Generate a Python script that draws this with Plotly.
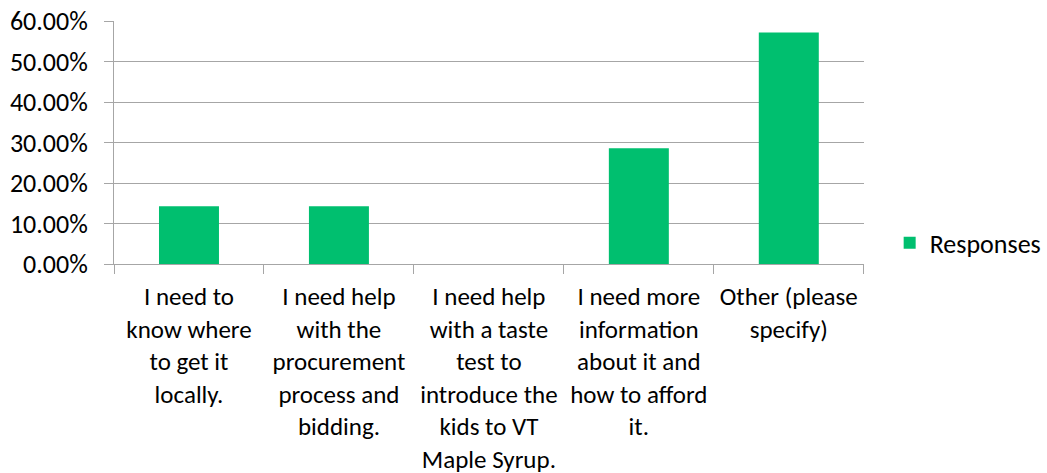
import plotly.graph_objects as go

categories = [
    "I need to<br>know where<br>to get it<br>locally.",
    "I need help<br>with the<br>procurement<br>process and<br>bidding.",
    "I need help<br>with a taste<br>test to<br>introduce the<br>kids to VT<br>Maple Syrup.",
    "I need more<br>information<br>about it and<br>how to afford<br>it.",
    "Other (please<br>specify)",
]
responses = [0.1429, 0.1429, 0.0, 0.2857, 0.5714]
series_name = "Responses"
y_ticks = [0, 0.1, 0.2, 0.3, 0.4, 0.5, 0.6]

FONT = "Carlito, Calibri, Lato, sans-serif"
GRID = "#A6A6A6"

W, H = 1047, 473
ML = 114
PLOT_RIGHT = 867
domain_end = (PLOT_RIGHT - ML) / (W - ML)

fig = go.Figure()
fig.add_trace(go.Bar(
    x=categories, y=responses, name=series_name,
    marker=dict(color="#00BF6F", line=dict(width=0)),
    showlegend=True,
))
fig.update_layout(
    width=W, height=H,
    margin=dict(l=ML, r=0, t=21, b=209),
    plot_bgcolor="white", paper_bgcolor="white",
    font=dict(family=FONT, size=25, color="#000000"),
    bargap=0.6,
    showlegend=True,
    legend=dict(x=(893 - ML) / (W - ML), xanchor="left", y=0.087, yanchor="middle",
                font=dict(family=FONT, size=26, color="#000000"),
                bgcolor="rgba(0,0,0,0)"),
    xaxis=dict(
        type="category", domain=[0, domain_end],
        showgrid=False, showline=True, linecolor=GRID, linewidth=1,
        ticks="outside", tickson="boundaries", ticklen=9, tickcolor=GRID,
        tickangle=0, tickfont=dict(family=FONT, size=25), automargin=False,
        ticklabelstandoff=10,
    ),
    yaxis=dict(
        range=[0, 0.6], tickvals=y_ticks, tickformat=".2%",
        showgrid=True, gridcolor=GRID, gridwidth=1,
        showline=True, linecolor=GRID, linewidth=1,
        ticks="outside", ticklen=9, tickcolor=GRID,
        tickfont=dict(family=FONT, size=26), zeroline=False, automargin=False,
        ticklabelstandoff=11,
    ),
)
fig.write_html("out.html", config={"displayModeBar": False},
               post_script="document.body.style.margin='0';")
